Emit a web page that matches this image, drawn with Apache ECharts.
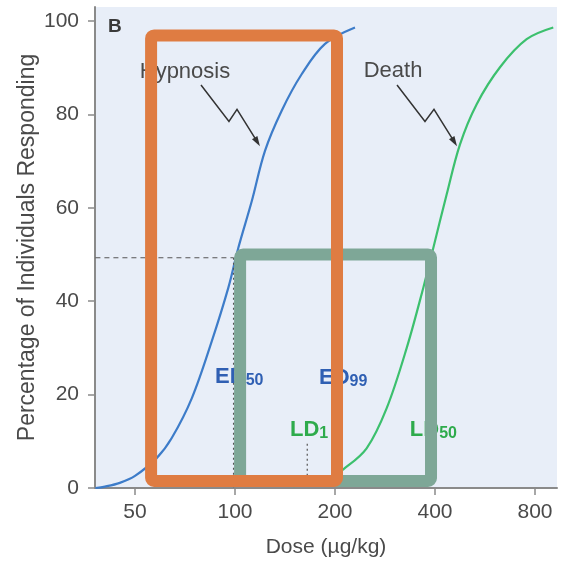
<!DOCTYPE html>
<html>
<head>
<meta charset="utf-8">
<title>Dose response</title>
<script src="https://cdn.jsdelivr.net/npm/echarts@6/dist/echarts.min.js"></script>
<style>html,body{margin:0;padding:0;background:#fff;}</style>
</head>
<body>
<div id="main" style="width:562px;height:567px;"></div>
<script>
// dose (ug/kg) vs % responding
var hypDose = [38, 40.6, 45, 50, 58.1, 64.5, 74.1, 85.1, 95.5, 102.3, 112.3, 123.1, 138.2, 158.7, 186.6, 229.7];
var hypPct  = [0, 0.3, 1.1, 2.6, 6.4, 10.7, 19.2, 31.4, 42.9, 51.4, 61.4, 72.2, 80.8, 88.6, 95.1, 98.6];
var deathDose = [150, 170, 195, 211.9, 249, 286.2, 328.8, 368.9, 395.3, 433.8, 475.7, 534, 627.6, 755, 908];
var deathPct  = [0.4, 1.1, 2.5, 4.0, 8.5, 17.1, 30, 42.9, 51.4, 62.9, 73.6, 82.2, 90.1, 96.1, 98.6];
var xTicks = [50, 100, 200, 400, 800];
var yTicks = [0, 20, 40, 60, 80, 100];

var lg = Math.log2;
function pairs(xs, ys) {
    return xs.map(function (d, i) { return [lg(d), ys[i]]; });
}

var chart = echarts.init(document.getElementById('main'));

var option = {
    animation: false,
    grid: {
        left: 95, right: 5, top: 7, bottom: 79,
        show: true, backgroundColor: '#e8eef8', borderWidth: 0
    },
    xAxis: {
        type: 'value',
        min: lg(50) - 0.4,
        max: lg(800) + 0.22,
        name: 'Dose (\u00b5g/kg)',
        nameLocation: 'middle',
        nameGap: 49,
        nameMoveOverlap: false,
        nameTextStyle: {color: '#4a4a4a', fontSize: 21, fontFamily: 'Liberation Sans'},
        splitLine: {show: false},
        axisLine: {lineStyle: {color: '#8a8a8a', width: 2}},
        axisTick: {length: 7, customValues: xTicks.map(lg), lineStyle: {color: '#8a8a8a', width: 1.5}},
        axisLabel: {
            customValues: xTicks.map(lg),
            margin: 14,
            color: '#4a4a4a', fontSize: 21, fontFamily: 'Liberation Sans',
            formatter: function (v) { return String(Math.round(Math.pow(2, v))); }
        }
    },
    yAxis: {
        type: 'value',
        min: 0, max: 103,
        name: 'Percentage of Individuals Responding',
        nameLocation: 'middle',
        nameGap: 56,
        nameMoveOverlap: false,
        nameTextStyle: {color: '#4a4a4a', fontSize: 23, fontFamily: 'Liberation Sans'},
        splitLine: {show: false},
        axisLine: {show: true, lineStyle: {color: '#8a8a8a', width: 2}},
        axisTick: {show: true, length: 7, customValues: yTicks, lineStyle: {color: '#8a8a8a', width: 1.5}},
        axisLabel: {
            customValues: yTicks,
            margin: 16,
            color: '#4a4a4a', fontSize: 21, fontFamily: 'Liberation Sans'
        }
    },
    series: [
        {
            name: 'Hypnosis', type: 'line', smooth: 0.35, symbol: 'none',
            lineStyle: {color: '#3d7cc9', width: 2.2},
            data: pairs(hypDose, hypPct)
        },
        {
            name: 'Death', type: 'line', smooth: 0.35, symbol: 'none',
            lineStyle: {color: '#3cc06e', width: 2.2},
            data: pairs(deathDose, deathPct)
        }
    ]
};
chart.setOption(option);

// annotations, placed in data space (dose, %)
function px(d, p) { return chart.convertToPixel({gridIndex: 0}, [lg(d), p]); }

function rect(d0, d1, p0, p1, color) {
    var a = px(d0, p1), b = px(d1, p0);
    return {
        type: 'rect', z: 100,
        shape: {x: a[0], y: a[1], width: b[0] - a[0], height: b[1] - a[1], r: 3},
        style: {fill: null, stroke: color, lineWidth: 12}
    };
}

function arrow(pts) {
    var p = pts.map(function (q) { return px(q[0], q[1]); });
    var e = p[p.length - 1], s = p[p.length - 2];
    var dx = e[0] - s[0], dy = e[1] - s[1], L = Math.sqrt(dx * dx + dy * dy);
    var ux = dx / L, uy = dy / L;
    var bx = e[0] - ux * 10, by = e[1] - uy * 10;
    var line = p.slice(0, -1).concat([[bx + ux * 2, by + uy * 2]]);
    return [
        {type: 'polyline', z: 50, shape: {points: line}, style: {stroke: '#333', lineWidth: 1.5, fill: null}},
        {type: 'polygon', z: 50, shape: {points: [e, [bx - uy * 3.2, by + ux * 3.2], [bx + uy * 3.2, by - ux * 3.2]]},
            style: {fill: '#333'}}
    ];
}

function label(d, p, text, opts) {
    var q = px(d, p);
    return {
        type: 'text', z: 60, x: q[0], y: q[1],
        style: Object.assign({text: text, align: 'left', verticalAlign: 'middle'}, opts)
    };
}

function subLabel(d, p, main, sub, color) {
    return label(d, p, '{m|' + main + '}{s|' + sub + '}', {
        rich: {
            m: {fontSize: 22, fontWeight: 'bold', fontFamily: 'Liberation Sans', fill: color, lineHeight: 24},
            s: {fontSize: 16, fontWeight: 'bold', fontFamily: 'Liberation Sans', fill: color,
                verticalAlign: 'bottom', padding: [11, 0, 0, 0], lineHeight: 14}
        }
    });
}

function guide(pts, dash) {
    return {
        type: 'polyline', z: 40,
        shape: {points: pts.map(function (q) { return px(q[0], q[1]); })},
        style: {stroke: '#555', lineWidth: 1.2, lineDash: dash, fill: null}
    };
}

var plain = {fontSize: 22, fontFamily: 'Liberation Sans', fill: '#4a4a4a'};
var g = [
    guide([[38, 49.3], [99, 49.3]], [5, 4]),
    guide([[99, 49.3], [99, 0]], [2, 3]),
    guide([[165, 9.5], [165, 0]], [2, 3]),
    label(43.5, 98.7, 'B', {fontSize: 19, fontWeight: 'bold', fontFamily: 'Liberation Sans', fill: '#3a3a3a', align: 'center'}),
    label(70.7, 89.1, 'Hypnosis', Object.assign({align: 'center'}, plain)),
    label(299, 89.3, 'Death', Object.assign({align: 'center'}, plain)),
    subLabel(87.1, 23.8, 'ED', '50', '#2f5fb3'),
    subLabel(179, 23.6, 'ED', '99', '#2f5fb3'),
    subLabel(146.4, 12.4, 'LD', '1', '#2eab4c'),
    subLabel(336, 12.4, 'LD', '50', '#2eab4c'),
    rect(103.6, 389.1, 1.5, 50.0, '#7ea797'),
    rect(55.9, 202.8, 1.5, 96.9, '#df7c42')
];
g = g.concat(arrow([[79.0, 86.3], [95.9, 78.5], [101.4, 81.1], [118.9, 73.2]]));
g = g.concat(arrow([[307.4, 86.3], [373.2, 78.5], [397.2, 81.1], [465.9, 73.2]]));

chart.setOption({graphic: {elements: g}});
</script>
</body>
</html>
